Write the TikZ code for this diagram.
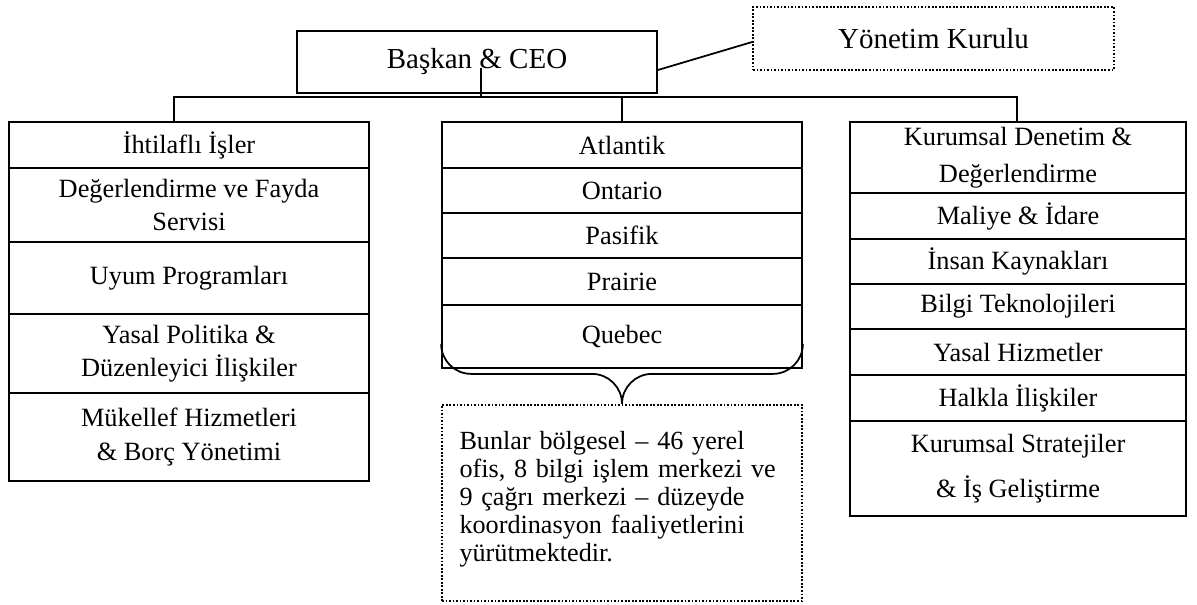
\documentclass[tikz,border=0pt]{standalone}
\usepackage{fontspec}
\setmainfont{Liberation Serif}
\usetikzlibrary{positioning}

\begin{document}
\begin{tikzpicture}[
        unit/.style={draw, line width=1pt, inner sep=2pt, align=center,
                     font=\fontsize{15}{19}\selectfont},
        headbox/.style={unit, font=\fontsize{16.5}{20}\selectfont},
        lcol/.style={unit, minimum width=7.2cm},
        rcol/.style={unit, minimum width=6.72cm},
        dotbox/.style={dash pattern=on 1pt off 1pt},
        conn/.style={line width=1pt},
    ]
        \useasboundingbox (0,0) rectangle (23.94,-12.08);

        % Top level
        \node[headbox, minimum width=7.2cm, minimum height=1.24cm] (ceo) at (9.54,-1.24) {Başkan \& CEO};
        \node[headbox, dotbox, minimum width=7.22cm, minimum height=1.26cm] (board) at (18.67,-0.77) {Yönetim Kurulu};
        \draw[conn] ([yshift=-0.16cm]ceo.east) -- ([yshift=-0.07cm]board.west);

        % Left column
        \node[lcol, minimum height=0.92cm] (l-1) at (3.78,-2.90) {İhtilaflı İşler};
        \node[lcol, minimum height=1.48cm] (l-2) at (3.78,-4.10) {Değerlendirme ve Fayda\\Servisi};
        \node[lcol, minimum height=1.44cm] (l-3) at (3.78,-5.56) {Uyum Programları};
        \node[lcol, minimum height=1.58cm] (l-4) at (3.78,-7.07) {Yasal Politika \&\\Düzenleyici İlişkiler};
        \node[lcol, minimum height=1.76cm] (l-5) at (3.78,-8.74) {Mükellef Hizmetleri\\\& Borç Yönetimi};

        % Middle column (regions)
        \node[lcol, minimum height=0.92cm] (m-1) at (12.44,-2.90) {Atlantik};
        \node[lcol, minimum height=0.90cm] (m-2) at (12.44,-3.81) {Ontario};
        \node[lcol, minimum height=0.90cm] (m-3) at (12.44,-4.71) {Pasifik};
        \node[lcol, minimum height=0.94cm] (m-4) at (12.44,-5.63) {Prairie};
        \node[lcol, minimum height=1.26cm] (m-5) at (12.44,-6.73) {Quebec};

        \draw[conn] ([yshift=0.5cm]m-5.south west)
            arc[start angle=180, end angle=270, radius=0.6cm]
            -- ([xshift=-0.6cm, yshift=-0.1cm]m-5.south)
            arc[start angle=90, end angle=0, radius=0.6cm] coordinate (brace-tip)
            arc[start angle=180, end angle=90, radius=0.6cm]
            -- ([xshift=-0.6cm, yshift=-0.1cm]m-5.south east)
            arc[start angle=270, end angle=360, radius=0.6cm];

        \node[unit, dotbox, below=0pt of brace-tip, text width=6.7cm, inner xsep=0.25cm,
              align=left, minimum height=3.92cm, font=\fontsize{14.9}{15.9}\selectfont] (regions)
            {\hspace*{0.1cm}Bunlar bölgesel -- 46 yerel\\\hspace*{0.1cm}ofis, 8 bilgi işlem merkezi ve\\\hspace*{0.1cm}9 çağrı merkezi -- düzeyde\\\hspace*{0.1cm}koordinasyon faaliyetlerini\\\hspace*{0.1cm}yürütmektedir.\\[-0.3cm]~};

        % Right column
        \node[rcol, minimum height=1.42cm] (r-1) at (20.36,-3.15) {Kurumsal Denetim \&\\[2pt]Değerlendirme};
        \node[rcol, minimum height=0.92cm] (r-2) at (20.36,-4.32) {Maliye \& İdare};
        \node[rcol, minimum height=0.90cm] (r-3) at (20.36,-5.23) {İnsan Kaynakları};
        \node[rcol, minimum height=0.90cm] (r-4) at (20.36,-6.13) {Bilgi Teknolojileri};
        \node[rcol, minimum height=0.92cm] (r-5) at (20.36,-7.04) {Yasal Hizmetler};
        \node[rcol, minimum height=0.92cm] (r-6) at (20.36,-7.96) {Halkla İlişkiler};
        \node[rcol, minimum height=1.90cm] (r-7) at (20.36,-9.37) {Kurumsal Stratejiler\\[6.5pt]\& İş Geliştirme};

        % Connectors
        \coordinate (bus-l) at (3.48,-1.94);
        \coordinate (bus-r) at (20.34,-1.94);
        \coordinate (ceo-tap) at (9.62,-1.36);
        \draw[conn] (bus-l |- l-1.north) -- (bus-l) -- (bus-r) -- (bus-r |- r-1.north);
        \draw[conn] (ceo-tap) -- (ceo-tap |- bus-l);
        \draw[conn] (m-1.north) -- (m-1.north |- bus-l);
    \end{tikzpicture}
\end{document}
